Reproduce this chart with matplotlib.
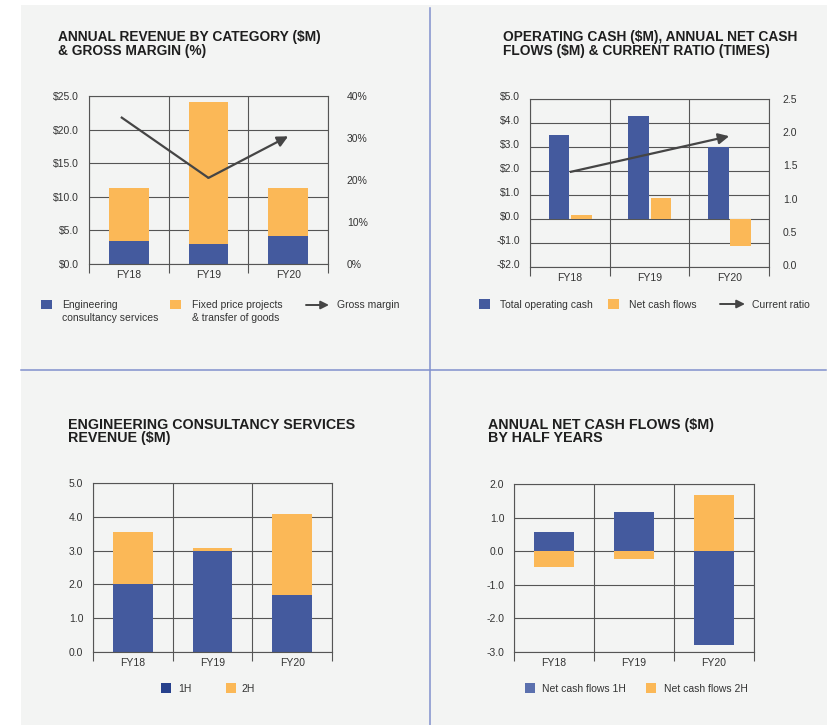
import matplotlib.pyplot as plt
from matplotlib.patches import Rectangle, FancyArrowPatch
from matplotlib.lines import Line2D
from matplotlib.transforms import ScaledTranslation

plt.rcParams['font.family'] = ['Liberation Sans', 'DejaVu Sans']

years = ['FY18', 'FY19', 'FY20']

# revenue by category ($M) and gross margin (%)
eng_consult = [3.42, 2.98, 4.12]
fixed_price = [7.84, 21.08, 7.14]
gross_margin = [35.0, 20.5, 30.4]

# operating cash, net cash flows ($M) and current ratio
op_cash = [3.50, 4.29, 3.01]
net_cash = [0.17, 0.87, -1.11]
current_ratio = [1.40, 1.67, 1.94]

# engineering consultancy revenue by half ($M)
ecs_1h = [2.00, 2.99, 1.70]
ecs_2h = [1.54, 0.10, 2.38]

# net cash flows by half ($M)
ncf_1h = [0.57, 1.16, -2.78]
ncf_2h = [-0.48, -0.24, 1.68]

BLUE = '#445a9e'
ORANGE = '#fbb857'
GRID = '#555555'
TXT = '#333333'
TITLE = '#1e1e1e'
BG = '#f3f4f3'
DIV = '#8190cc'
ARROW = '#454545'

W, H = 828, 725
fig = plt.figure(figsize=(W / 100, H / 100), dpi=100, facecolor='white')


def fx(x):
    return x / W


def fy(y):
    return 1 - y / H


def axes_at(l, t, r, b):
    return fig.add_axes([fx(l), fy(b), (r - l) / W, (b - t) / H])


# panel background and dividers
fig.patches.append(Rectangle((fx(21), 0), 1 - fx(21), fy(5), transform=fig.transFigure,
                             facecolor=BG, edgecolor='none', zorder=-5))
fig.add_artist(Line2D([fx(430), fx(430)], [fy(8), 0], color=DIV, lw=1.1))
fig.add_artist(Line2D([fx(21), fx(826)], [fy(370), fy(370)], color=DIV, lw=1.1))


def style(ax, ylim, yticks, fmt, lpad=7):
    ax.set_facecolor('none')
    ax.set_xlim(-0.5, 2.5)
    ax.set_ylim(*ylim)
    ax.set_yticks(yticks)
    ax.set_yticklabels([fmt(v) for v in yticks])
    ax.set_xticks([-0.5, 0.5, 1.5, 2.5])
    ax.set_xticklabels([])
    ax.set_xticks(range(3), minor=True)
    ax.set_xticklabels(years, minor=True)
    ax.tick_params(axis='x', which='major', length=6.5, width=0.8, color=GRID)
    ax.tick_params(axis='x', which='minor', length=0, pad=4, labelsize=7.5, labelcolor=TXT)
    ax.tick_params(axis='y', length=0, pad=lpad, labelsize=7.5, labelcolor=TXT)
    ax.grid(True, which='major', color=GRID, lw=0.8)
    for s in ax.spines.values():
        s.set_color(GRID)
        s.set_linewidth(0.8)
    ax.set_axisbelow(True)


def right_axis(ax, ylim, yticks, fmt, pad):
    ax2 = ax.twinx()
    ax2.set_ylim(*ylim)
    ax2.set_yticks(yticks)
    ax2.set_yticklabels([fmt(v) for v in yticks])
    ax2.tick_params(axis='y', length=0, pad=pad, labelsize=7.5, labelcolor=TXT)
    for s in ax2.spines.values():
        s.set_visible(False)
    return ax2


def arrow_line(ax, xs, ys):
    ax.plot(xs[:-1], ys[:-1], color=ARROW, lw=1.6, solid_capstyle='butt')
    ax.annotate('', xy=(xs[-1], ys[-1]), xytext=(xs[-2], ys[-2]),
                arrowprops=dict(arrowstyle='-|>', color=ARROW, lw=1.6,
                                mutation_scale=16, shrinkA=0, shrinkB=0))


def title(x, y, lines, size=9.9):
    for i, s in enumerate(lines):
        fig.text(fx(x), fy(y + i * 13.4), s, fontsize=size, fontweight='bold',
                 color=TITLE, ha='left', va='baseline')


def swatch(x, y, color, w=10, h=10):
    fig.patches.append(Rectangle((fx(x), fy(y + h)), w / W, h / H, transform=fig.transFigure,
                                 facecolor=color, edgecolor='none'))


def label(x, y, s):
    fig.text(fx(x), fy(y), s, fontsize=7.5, color=TXT, ha='left', va='baseline')


def legend_arrow(x0, x1, y):
    fig.add_artist(FancyArrowPatch((fx(x0), fy(y)), (fx(x1), fy(y)), transform=fig.transFigure,
                                   arrowstyle='-|>', mutation_scale=12, color=ARROW, lw=1.4,
                                   shrinkA=0, shrinkB=0))


xs = list(range(3))

# --- top left: revenue by category & gross margin
ax1 = axes_at(89, 96, 328, 264)
style(ax1, (0, 25), [0, 5, 10, 15, 20, 25], lambda v: f'${v:.1f}')
ax1.bar(xs, eng_consult, width=0.5, color=BLUE)
ax1.bar(xs, fixed_price, width=0.5, bottom=eng_consult, color=ORANGE)
ax1r = right_axis(ax1, (0, 40), [0, 10, 20, 30, 40], lambda v: f'{v:.0f}%', 13.5)
arrow_line(ax1r, [-0.1, 1, 2], gross_margin)
title(58, 41.5, ['ANNUAL REVENUE BY CATEGORY ($M)', '& GROSS MARGIN (%)'])
swatch(41, 300, BLUE, 11, 9)
label(62, 308.5, 'Engineering')
label(62, 321, 'consultancy services')
swatch(170, 300, ORANGE, 11, 9)
label(192, 308.5, 'Fixed price projects')
label(192, 321, '& transfer of goods')
legend_arrow(306, 329, 305)
label(337, 308.5, 'Gross margin')

# --- top right: operating cash, net cash flows, current ratio
ax2 = axes_at(530, 99, 769, 267)
style(ax2, (-2, 5), [-2, -1, 0, 1, 2, 3, 4, 5],
      lambda v: f'-${abs(v):.1f}' if v < 0 else f'${v:.1f}')
# left labels of this panel sit a little above their gridlines
lift = ScaledTranslation(0, 3 / 100, fig.dpi_scale_trans)
for t in ax2.get_yticklabels():
    t.set_transform(t.get_transform() + lift)
ax2.bar([x - 0.135 for x in xs], op_cash, width=0.26, color=BLUE)
ax2.bar([x + 0.145 for x in xs], net_cash, width=0.26, color=ORANGE)
ax2r = right_axis(ax2, (-0.03, 2.5), [0, 0.5, 1.0, 1.5, 2.0, 2.5], lambda v: f'{v:.1f}', 10)
arrow_line(ax2r, xs, current_ratio)
title(503, 41.5, ['OPERATING CASH ($M), ANNUAL NET CASH', 'FLOWS ($M) & CURRENT RATIO (TIMES)'])
swatch(479, 299, BLUE, 11, 10)
label(500, 308, 'Total operating cash')
swatch(608, 299, ORANGE, 11, 10)
label(629, 308, 'Net cash flows')
legend_arrow(720, 745, 304)
label(752, 308, 'Current ratio')

# --- bottom left: engineering consultancy revenue by half
ax3 = axes_at(93, 483, 332, 652)
style(ax3, (0, 5), [0, 1, 2, 3, 4, 5], lambda v: f'{v:.1f}')
ax3.bar(xs, ecs_1h, width=0.5, color=BLUE)
ax3.bar(xs, ecs_2h, width=0.5, bottom=ecs_1h, color=ORANGE)
title(68, 429, ['ENGINEERING CONSULTANCY SERVICES', 'REVENUE ($M)'], size=10.3)
swatch(161, 683, '#26408c', 10, 10)
label(178, 692, '1H')
swatch(226, 683, ORANGE, 10, 10)
label(241, 692, '2H')

# --- bottom right: net cash flows by half
ax4 = axes_at(514, 484, 754, 652)
style(ax4, (-3, 2), [-3, -2, -1, 0, 1, 2], lambda v: f'{v:.1f}')
ax4.bar(xs, ncf_1h, width=0.5, color=BLUE)
ax4.bar(xs, ncf_2h, width=0.5, color=ORANGE)
title(488, 429, ['ANNUAL NET CASH FLOWS ($M)', 'BY HALF YEARS'], size=10.3)
swatch(525, 683, '#5b70ae', 10, 10)
label(542, 692, 'Net cash flows 1H')
swatch(646, 683, ORANGE, 10, 10)
label(664, 692, 'Net cash flows 2H')

fig.savefig('out.png', dpi=100, facecolor='white')
